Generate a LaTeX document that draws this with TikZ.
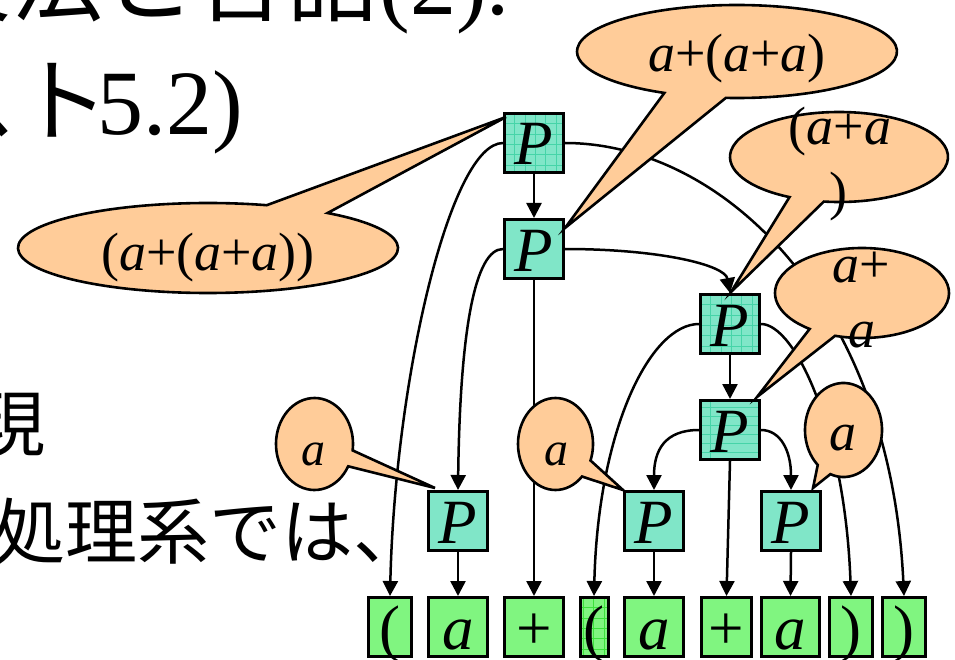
\documentclass[tikz,border=0pt]{standalone}
\usepackage{fontspec}
\setmainfont{Liberation Serif}
\newfontfamily\jp{Noto Sans CJK JP}
\usetikzlibrary{arrows.meta}
\definecolor{pfill}{RGB}{128,230,200}
\definecolor{pgrid}{RGB}{70,212,168}
\definecolor{lfill}{RGB}{128,245,128}
\definecolor{lgrid}{RGB}{60,225,60}
\definecolor{bfill}{RGB}{255,204,153}
\newcommand\boxfont{\fontsize{63pt}{63pt}\selectfont}
\newcommand\bubfont{\fontsize{54pt}{54pt}\selectfont}
\newcommand\smbubfont{\fontsize{48pt}{48pt}\selectfont}
\newcommand\titlefont{\fontsize{92pt}{92pt}\selectfont}
\newcommand\bodyfont{\fontsize{72pt}{72pt}\selectfont}
\newcommand\ita{\textit{a}}
\begin{document}
\begin{tikzpicture}[x=1pt,y=1pt,
  pbox/.style={draw, line width=3pt, fill=pfill, minimum width=59pt, minimum height=59pt,
    inner sep=0pt, text height=44pt, text depth=0pt, font=\boxfont},
  leaf/.style={draw, line width=3pt, fill=lfill, minimum height=59pt,
    inner sep=0pt, text height=44pt, text depth=0pt, font=\boxfont},
  pgridded/.style={path picture={\draw[pgrid, line width=0.8pt]
    (path picture bounding box.south west) grid[step=10.3pt] (path picture bounding box.north east);}},
  plined/.style={path picture={\draw[pgrid, line width=0.8pt]
    (path picture bounding box.south west) grid[xstep=1000pt, ystep=9pt] (path picture bounding box.north east);}},
  lgridded/.style={path picture={\draw[lgrid, line width=0.8pt]
    (path picture bounding box.south west) grid[step=10.3pt] (path picture bounding box.north east);}},
  edge/.style={line width=2.5pt, -{Triangle[length=15pt,width=15pt]}},
  bubble/.style={draw, fill=bfill, line width=2.6pt, line join=miter},
  btext/.style={inner sep=0pt, anchor=base, font=\bubfont},
  sbtext/.style={inner sep=0pt, anchor=base, font=\smbubfont},
  bigtext/.style={inner sep=0pt}
]
\useasboundingbox (0,0) rectangle (955,-660);
\clip (0,0) rectangle (955,-660);

% background slide text
\node[bigtext, anchor=base east] (title1) at (510,-15) {\titlefont{\jp 文法と言語}(2).};
\node[bigtext, anchor=base east] (title2) at (243,-135) {\titlefont{\jp スト}\kern-12pt 5.2)};
\node[bigtext, anchor=base east] (body1) at (46,-450) {\bodyfont\jp 現};
\node[bigtext, anchor=base west] (body2) at (-7,-558) {\bodyfont\jp 処理系では、};

% nonterminal boxes
\node[pbox, pgridded] (P1) at (534,-143) {\textit{P}};
\node[pbox] (P2) at (534,-249) {\textit{P}};
\node[pbox, pgridded] (P3) at (730,-324) {\textit{P}};
\node[pbox, plined] (P4) at (730,-430) {\textit{P}};
\node[pbox] (P5) at (458,-521) {\textit{P}};
\node[pbox] (P6) at (654,-521) {\textit{P}};
\node[pbox] (P7) at (791,-521) {\textit{P}};

% leaves
\node[leaf, minimum width=43pt] (l1) at (390,-627) {(};
\node[leaf, minimum width=59pt] (l2) at (458,-627) {\ita};
\node[leaf, minimum width=59pt] (l3) at (534,-627) {+};
\node[leaf, lgridded, minimum width=28pt] (l4) at (594,-627) {(};
\node[leaf, minimum width=59pt] (l5) at (654,-627) {\ita};
\node[leaf, minimum width=50pt] (l6) at (726.5,-627) {+};
\node[leaf, minimum width=58pt] (l7) at (790.5,-627) {\ita};
\node[leaf, minimum width=43pt] (l8) at (851,-627) {)};
\node[leaf, minimum width=43pt] (l9) at (904,-627) {)};

% edges
\draw[edge] (P1.south) -- (P2.north);
\draw[edge] (P1.west) .. controls +(-53,0) and +(5,216) .. (l1.north);
\draw[edge] (P1.east) .. controls +(155,0) and +(-14,296) .. (l9.north);
\draw[edge] (P2.west) .. controls +(-28,0) and +(2,160) .. (P5.north);
\draw[edge] (P2.south) -- (l3.north);
\draw[edge] (P2.east) .. controls +(95,0) and +(-5,28) .. (P3.north);
\draw[edge] (P3.west) .. controls +(-49,0) and +(4,166) .. (l4.north);
\draw[edge] (P3.east) .. controls +(34,0) and +(-6,166) .. (l8.north);
\draw[edge] (P3.south) -- (P4.north);
\draw[edge] (P4.west) .. controls +(-34,0) and +(0,40) .. (P6.north);
\draw[edge] (P4.south) -- (l6.north);
\draw[edge] (P4.east) .. controls +(19,0) and +(0,40) .. (P7.north);
\draw[edge] (P5.south) -- (l2.north);
\draw[edge] (P6.south) -- (l5.north);
\draw[edge] (P7.south) -- (l7.north);

% callout tips
\coordinate (tip1) at ([xshift=3pt,yshift=-5pt]P1.north west);
\coordinate (tip2) at ([yshift=-10pt]P2.north east);
\coordinate (tip3) at ([xshift=1pt,yshift=1pt]P3.north);
\coordinate (tip4) at ([xshift=-4pt,yshift=2pt]P4.north east);
\coordinate (tip5) at ([xshift=8pt,yshift=2pt]P5.north west);
\coordinate (tip6) at (P6.north west);
\coordinate (tip7) at ([xshift=-9pt,yshift=2pt]P7.north east);

% callouts
\begin{scope}[shift={(208,-248)}]
  \path[bubble] (72:190 and 45) -- (tip1) -- (51:190 and 45)
    arc[start angle=51, end angle=-288, x radius=190, y radius=45] -- cycle;
\end{scope}
\begin{scope}[shift={(737,-51.5)}]
  \path[bubble] (243:160 and 46.5) -- (tip2) -- (266:160 and 46.5)
    arc[start angle=266, end angle=603, x radius=160, y radius=46.5] -- cycle;
\end{scope}
\begin{scope}[shift={(839,-157)}]
  \path[bubble] (243:109 and 45) -- (tip3) -- (262:109 and 45)
    arc[start angle=262, end angle=603, x radius=109, y radius=45] -- cycle;
\end{scope}
\begin{scope}[shift={(862,-293)}]
  \path[bubble] (233:87 and 45) -- (tip4) -- (252:87 and 45)
    arc[start angle=252, end angle=593, x radius=87, y radius=45] -- cycle;
\end{scope}
\begin{scope}[shift={(314.5,-444)}]
  \path[bubble] (-8:38.5 and 46) -- (tip5) -- (-29:38.5 and 46)
    arc[start angle=-29, end angle=-368, x radius=38.5, y radius=46] -- cycle;
\end{scope}
\begin{scope}[shift={(555.5,-444)}]
  \path[bubble] (-21:37.5 and 46) -- (tip6) -- (-45:37.5 and 46)
    arc[start angle=-45, end angle=-381, x radius=37.5, y radius=46] -- cycle;
\end{scope}
\begin{scope}[shift={(843.5,-430)}]
  \path[bubble] (228:38.5 and 47) -- (tip7) -- (250:38.5 and 47)
    arc[start angle=250, end angle=588, x radius=38.5, y radius=47] -- cycle;
\end{scope}

% callout texts
\node[btext] (bt1) at (208,-270) {(\ita+(\ita+\ita))};
\node[btext] (bt2) at (737,-72) {\ita+(\ita+\ita)};
\node[btext] (bt3a) at (840,-145) {(\ita+\ita};
\node[btext] (bt3b) at (838,-210) {)};
\node[btext] (bt4a) at (861,-282) {\ita+};
\node[btext] (bt4b) at (862,-347) {\ita};
\node[sbtext] (bt5) at (313.5,-465) {\ita};
\node[sbtext] (bt6) at (556,-465) {\ita};
\node[btext] (bt7) at (843,-450) {\ita};
\end{tikzpicture}
\end{document}
